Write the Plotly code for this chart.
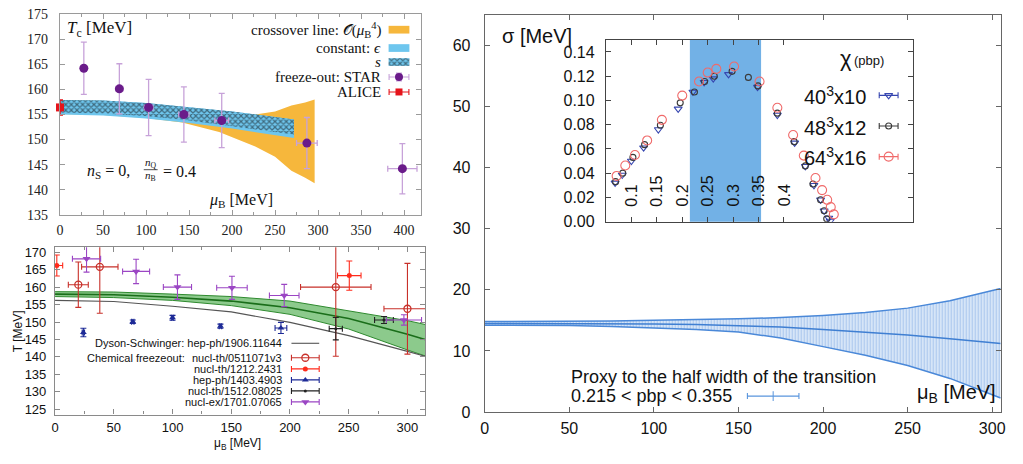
import plotly.graph_objects as go

W, H = 1023, 464
SERIF = "Liberation Serif"
SANS = "Liberation Sans"


def ax(x):
    return x / W


def ay(y):
    return 1 - y / H


# ---------------- top-left: crossover line and freeze-out ----------------
o4_mu = [0, 50, 100, 142, 185, 227, 250, 269, 285, 296]
o4_hi = [157.9, 157.7, 157.1, 156.4, 155.6, 155.0, 155.6, 156.8, 157.4, 158.0]
o4_lo = [155.1, 154.9, 154.3, 153.4, 151.5, 148.6, 146.6, 143.8, 142.4, 141.3]

eps_mu = [0, 50, 100, 150, 200, 250, 272]
eps_hi = [157.9, 157.8, 157.3, 156.5, 155.6, 154.5, 154.0]
eps_lo = [155.0, 154.8, 154.2, 153.3, 152.2, 150.9, 150.3]

s_mu = [0, 50, 100, 150, 200, 250, 272]
s_hi = [157.9, 157.8, 157.3, 156.5, 155.6, 154.5, 154.0]
s_lo = [155.4, 155.2, 154.7, 153.8, 152.7, 151.5, 151.0]

star_mu = [27.7, 69, 103, 144, 188, 287, 398]
star_mu_err = [3, 4, 5, 6, 8, 12, 17]
star_T = [164.2, 160.1, 156.4, 155.0, 153.8, 149.3, 144.2]
star_T_err = [5.2, 5.0, 5.6, 5.5, 5.4, 5.1, 5.0]

alice_mu = [0]
alice_T = [156.4]
alice_T_err = [1.5]

# ---------------- bottom-left: chemical freeze-out compilation ----------------
ds_mu = [0, 50, 100, 150, 200, 250, 300, 315]
ds_T = [156.2, 155.9, 154.5, 152.9, 149.9, 146.1, 141.6, 140.2]

lat_mu = [0, 50, 100, 150, 200, 250, 300, 315]
lat_T = [158.0, 157.8, 157.1, 156.0, 154.1, 151.0, 146.5, 145.0]
lat_hi = [158.7, 158.6, 158.0, 157.3, 156.0, 153.3, 150.4, 149.3]
lat_lo = [157.3, 157.0, 156.2, 154.7, 152.2, 148.0, 142.0, 140.3]

a_mu = [19.8, 38.1, 239, 300]
a_mu_err = [8.5, 15.5, 30, 20]
a_T = [160.7, 165.8, 160.0, 153.8]
a_T_err = [6.5, 13.3, 19.8, 13.0]

b_mu = [1.5, 250.5]
b_mu_err = [5, 10]
b_T = [166.2, 163.3]
b_T_err = [3.0, 4.2]

c_mu = [24.1, 66.2, 100, 140.8, 192.3]
c_mu_err = [1, 1, 1, 1, 5]
c_T = [147.0, 150.1, 151.2, 148.8, 148.3]
c_T_err = [1.2, 0.5, 0.7, 0.6, 1.6]

d_mu = [239, 280]
d_mu_err = [5.6, 8]
d_T = [148.1, 150.6]
d_T_err = [3.2, 1.0]

e_mu = [26.8, 69, 104.2, 150.6, 195.1, 297]
e_mu_err = [12, 11.5, 12, 13, 12.6, 15]
e_T = [168.1, 164.5, 160.0, 159.8, 157.6, 150.6]
e_T_err = [3.8, 3.5, 3.5, 3.3, 3.2, 1.5]

bl_labels = ["Dyson-Schwinger: hep-ph/1906.11644", "nucl-th/0511071v3", "nucl-th/1212.2431",
             "hep-ph/1403.4903", "nucl-th/1512.08025", "nucl-ex/1701.07065"]

# ---------------- right: half width of the transition ----------------
sig_mu = [0, 25, 50, 75, 100, 125, 150, 175, 200, 225, 250, 275, 305]
sig_mid = [14.5, 14.5, 14.5, 14.45, 14.4, 14.3, 14.15, 13.9, 13.5, 13.1, 12.6, 12.0, 11.2]
sig_hi = [14.8, 14.8, 14.85, 14.9, 15.0, 15.1, 15.25, 15.45, 15.8, 16.3, 17.0, 18.2, 20.2]
sig_lo = [14.2, 14.2, 14.15, 14.0, 13.8, 13.5, 13.1, 12.1, 10.7, 9.3, 7.6, 5.5, 2.3]

pbp_lo, pbp_hi = 0.215, 0.355

chi40_pbp = [0.068, 0.082, 0.100, 0.124, 0.153, 0.192, 0.221, 0.243, 0.261, 0.291, 0.348,
             0.387, 0.421, 0.442, 0.459, 0.472, 0.479, 0.488, 0.491]
chi40 = [0.032, 0.0385, 0.050, 0.061, 0.076, 0.093, 0.107, 0.115, 0.118, 0.1215, 0.111,
         0.088, 0.065, 0.0457, 0.030, 0.018, 0.009, 0.003, 0.0005]

chi48_pbp = [0.069, 0.083, 0.103, 0.126, 0.157, 0.196, 0.224, 0.244, 0.263, 0.298, 0.330,
             0.349, 0.387, 0.420, 0.442, 0.457, 0.472, 0.479, 0.484]
chi48 = [0.033, 0.040, 0.053, 0.0635, 0.0795, 0.098, 0.107, 0.1156, 0.120, 0.124, 0.119,
         0.112, 0.0895, 0.066, 0.046, 0.031, 0.018, 0.009, 0.0023]

chi64_pbp = [0.071, 0.088, 0.107, 0.131, 0.160, 0.200, 0.233, 0.250, 0.267, 0.302, 0.352,
             0.387, 0.418, 0.439, 0.462, 0.475, 0.485, 0.492, 0.498]
chi64 = [0.0377, 0.0463, 0.055, 0.067, 0.084, 0.104, 0.1156, 0.123, 0.126, 0.128, 0.1156,
         0.094, 0.0715, 0.0545, 0.036, 0.026, 0.018, 0.012, 0.006]

inset_xticks = [0.1, 0.15, 0.2, 0.25, 0.3, 0.35, 0.4]
inset_xlabels = ["0.1", "0.15", "0.2", "0.25", "0.3", "0.35", "0.4"]
inset_yticks = [0.0, 0.02, 0.04, 0.06, 0.08, 0.10, 0.12, 0.14]
lattice_labels = ["40<sup>3</sup>x10", "48<sup>3</sup>x12", "64<sup>3</sup>x16"]

fig = go.Figure()

HATCH = dict(shape="x", fgcolor="#101010", bgcolor="#6ec6ee", size=4, solidity=0.5)


def band(xs, lo, hi):
    return list(xs) + list(xs)[::-1], list(hi) + list(lo)[::-1]


def ebar(vals, color, thick=1.2, width=3):
    return dict(type="data", array=vals, color=color, thickness=thick, width=width)


# top-left bands
bx, by = band(o4_mu, o4_lo, o4_hi)
fig.add_trace(go.Scatter(x=bx, y=by, fill="toself", fillcolor="#f6b73c", mode="lines",
                         line=dict(width=0), xaxis="x", yaxis="y"))
bx, by = band(eps_mu, eps_lo, eps_hi)
fig.add_trace(go.Scatter(x=bx, y=by, fill="toself", fillcolor="#6ec6ee", mode="lines",
                         line=dict(width=0), xaxis="x", yaxis="y"))
bx, by = band(s_mu, s_lo, s_hi)
fig.add_trace(go.Scatter(x=bx, y=by, fill="toself", mode="lines", line=dict(width=0),
                         fillpattern=HATCH, xaxis="x", yaxis="y"))
fig.add_trace(go.Scatter(x=star_mu, y=star_T, mode="markers",
                         marker=dict(color="#6a1b8a", size=9),
                         error_x=ebar(star_mu_err, "#c7a2d9", 1.3),
                         error_y=ebar(star_T_err, "#c7a2d9", 1.3),
                         xaxis="x", yaxis="y"))
fig.add_trace(go.Scatter(x=alice_mu, y=alice_T, mode="markers", cliponaxis=False,
                         marker=dict(color="#e5141b", size=8, symbol="square"),
                         error_y=ebar(alice_T_err, "#e5141b", 1.5),
                         xaxis="x", yaxis="y"))

# bottom-left curves
bx, by = band(lat_mu, lat_lo, lat_hi)
fig.add_trace(go.Scatter(x=bx, y=by, fill="toself", fillcolor="rgba(70,170,70,0.62)",
                         mode="lines", line=dict(width=0), xaxis="x2", yaxis="y2"))
for edge in (lat_lo, lat_hi):
    fig.add_trace(go.Scatter(x=lat_mu, y=edge, mode="lines",
                             line=dict(color="#2f8a2f", width=1), xaxis="x2", yaxis="y2"))
fig.add_trace(go.Scatter(x=lat_mu, y=lat_T, mode="lines",
                         line=dict(color="#1a6e1a", width=1.6), xaxis="x2", yaxis="y2"))
fig.add_trace(go.Scatter(x=ds_mu, y=ds_T, mode="lines",
                         line=dict(color="#555555", width=1.1), xaxis="x2", yaxis="y2"))

bl_sets = [
    (a_mu, a_mu_err, a_T, a_T_err, dict(symbol="circle-open", color="#c8302a", size=7,
                                        line=dict(width=1.3)), "#c8302a", True),
    (b_mu, b_mu_err, b_T, b_T_err, dict(symbol="circle", color="#ff2b1c", size=5), "#ff2b1c", False),
    (c_mu, c_mu_err, c_T, c_T_err, dict(symbol="triangle-up", color="#1d2a96", size=6), "#1d2a96", True),
    (d_mu, d_mu_err, d_T, d_T_err, dict(symbol="circle", color="#222222", size=3), "#222222", True),
    (e_mu, e_mu_err, e_T, e_T_err, dict(symbol="triangle-down", color="#9b46c4", size=7), "#9b46c4", True),
]
for mu, mue, t, te, mk, col, clip in bl_sets:
    fig.add_trace(go.Scatter(x=mu, y=t, mode="markers", marker=mk, cliponaxis=clip,
                             error_x=ebar(mue, col, 1.1), error_y=ebar(te, col, 1.1),
                             xaxis="x2", yaxis="y2"))

# right: sigma band
fig.add_trace(go.Scatter(x=sig_mu, y=sig_lo, mode="lines", line=dict(color="#4a88d8", width=1.5),
                         xaxis="x3", yaxis="y3"))
fig.add_trace(go.Scatter(x=sig_mu, y=sig_hi, mode="lines", line=dict(color="#4a88d8", width=1.5),
                         fill="tonexty",
                         fillpattern=dict(shape="|", fgcolor="#7eaae6", bgcolor="#d6e5f7",
                                          size=3, solidity=0.35),
                         xaxis="x3", yaxis="y3"))
fig.add_trace(go.Scatter(x=sig_mu, y=sig_mid, mode="lines", line=dict(color="#3f7fd2", width=1.5),
                         xaxis="x3", yaxis="y3"))

# inset: chiral susceptibility
inset_sets = [
    (chi40_pbp, chi40, dict(symbol="triangle-down-open", color="#3646b0", size=7, line=dict(width=1.1))),
    (chi48_pbp, chi48, dict(symbol="circle-open", color="#3a3a3a", size=6, line=dict(width=1.1))),
    (chi64_pbp, chi64, dict(symbol="circle-open", color="#f06a6a", size=9, line=dict(width=1.1))),
]
for xs, ys, mk in inset_sets:
    fig.add_trace(go.Scatter(x=xs, y=ys, mode="markers", marker=mk, xaxis="x4", yaxis="y4"))


# ---------------- keys (drawn on a pixel-space overlay) ----------------
def key_marker(xc, yc, mk, col, half, vert=None):
    fig.add_trace(go.Scatter(x=[xc], y=[yc], mode="markers", marker=mk, cliponaxis=False,
                             error_x=dict(type="constant", value=half, color=col, thickness=1.1, width=3),
                             error_y=(dict(type="constant", value=vert, color=col, thickness=1.1, width=3)
                                      if vert else None),
                             xaxis="x5", yaxis="y5"))


tl_rows = [23.5, 42.5, 57, 72.5, 88]
fig.add_trace(go.Scatter(x=[388, 409, 409, 388, 388],
                         y=[tl_rows[2] - 4, tl_rows[2] - 4, tl_rows[2] + 4, tl_rows[2] + 4, tl_rows[2] - 4],
                         fill="toself", mode="lines", line=dict(width=0),
                         fillpattern=HATCH, xaxis="x5", yaxis="y5"))
key_marker(398.5, tl_rows[3], dict(color="#6a1b8a", size=8), "#c7a2d9", 10, 4)
key_marker(398.5, tl_rows[4], dict(color="#e5141b", size=7, symbol="square"), "#e5141b", 10)

bl_rows = [348.3, 363.3, 374.8, 386.2, 397.6, 409.0]
for (mu, mue, t, te, mk, col, clip), yy in zip(bl_sets, bl_rows[1:]):
    key_marker(304, yy, mk, col, 14)

key_marker(776, 403, dict(symbol="line-ns", color="#5a95dd", size=7, line=dict(width=1, color="#5a95dd")),
           "#5a95dd", 26)

in_rows = [91.5, 123.3, 155.0]
for (xs, ys, mk), yy in zip(inset_sets, in_rows):
    key_marker(892.5, yy, mk, mk["color"], 9.5)

# ---------------- shapes ----------------
shapes = [
    dict(type="rect", xref="x5", yref="y5", x0=388, x1=409, y0=tl_rows[0] - 4, y1=tl_rows[0] + 4,
         fillcolor="#f6b73c", line=dict(width=0)),
    dict(type="rect", xref="x5", yref="y5", x0=388, x1=409, y0=tl_rows[1] - 4, y1=tl_rows[1] + 4,
         fillcolor="#6ec6ee", line=dict(width=0)),
    dict(type="line", xref="x5", yref="y5", x0=141, x1=155, y0=168.5, y1=168.5,
         line=dict(color="#222", width=0.8)),
    dict(type="line", xref="x5", yref="y5", x0=290, x1=318, y0=bl_rows[0], y1=bl_rows[0],
         line=dict(color="#555555", width=1.1)),
    dict(type="rect", xref="x4", yref="y4 domain", x0=pbp_lo, x1=pbp_hi, y0=0, y1=1,
         fillcolor="#72b1e6", line=dict(width=0), layer="below"),
]

# ---------------- annotations ----------------
ann = []


def text(x, y, s, size, family=SANS, xa="left", ya="middle", angle=0, color="#111"):
    ann.append(dict(x=ax(x), y=ay(y), xref="paper", yref="paper", text=s, showarrow=False,
                    xanchor=xa, yanchor=ya, textangle=angle,
                    font=dict(family=family, size=size, color=color)))


tl_text = ["crossover line: 𝒪(<i>μ</i><sub>B</sub><sup>4</sup>)", "constant: <i>ϵ</i>", "<i>s</i>",
           "freeze-out: STAR", "ALICE"]
for s, yy in zip(tl_text, tl_rows):
    text(382, yy, s, 15, SERIF, xa="right")
text(62, 23, "<i>T</i><sub>c</sub> [MeV]", 17, SERIF)
text(82, 170, "<i>n</i><sub>S</sub> = 0,", 16, SERIF)
text(148, 161.5, "<i>n</i><sub>Q</sub>", 11, SERIF, xa="center")
text(148, 175.5, "<i>n</i><sub>B</sub>", 11, SERIF, xa="center")
text(158, 170, "= 0.4", 16, SERIF)
text(205, 200, "<i>μ</i><sub>B</sub> [MeV]", 16, SERIF)

for s, yy in zip(bl_labels, bl_rows):
    text(282, yy, s, 11, xa="right")
text(185, bl_rows[1], "Chemical freezeout:", 11, xa="right")
text(15, 336, "T [MeV]", 12, xa="center", angle=-90)
text(236, 453, "μ<sub>B</sub> [MeV]", 12, xa="center")

text(500, 30, "σ [MeV]", 20)
text(570, 383, "Proxy to the half width of the transition", 18)
text(570, 403, f"{pbp_lo} &lt; pbp &lt; {pbp_hi}", 18)
text(1003, 400, "μ<sub>B</sub> [MeV]", 20, xa="right")

for v, s in zip(inset_xticks, inset_xlabels):
    ann.append(dict(x=v, y=ay(208.5), xref="x4", yref="paper", text=s, showarrow=False,
                    xanchor="center", yanchor="bottom", textangle=-90,
                    font=dict(family=SANS, size=16, color="#111")))
text(849, 53, "χ", 22, xa="center")
text(856, 55, "(pbp)", 13)
for s, yy in zip(lattice_labels, in_rows):
    text(872, yy, s, 20, xa="right")


# ---------------- axes ----------------
def axis(domain, rng, anchor, line, font, standoff, **kw):
    d = dict(domain=domain, range=rng, anchor=anchor, showgrid=False, zeroline=False,
             showline=True, mirror="ticks", ticks="inside", ticklen=5, linecolor=line,
             tickcolor=line, linewidth=1.2, tickfont=font, ticklabelstandoff=standoff)
    d.update(kw)
    return d


f_serif = dict(family=SERIF, size=14, color="#222")
f_bl = dict(family=SANS, size=13, color="#111")
f_r = dict(family=SANS, size=16, color="#111")

fig.update_layout(
    width=W, height=H, margin=dict(l=0, r=0, t=0, b=0),
    paper_bgcolor="white", plot_bgcolor="rgba(0,0,0,0)", showlegend=False,
    xaxis=axis([ax(56.5), ax(421)], [0, 420], "y", "#9a9a9a", f_serif, 2, tick0=0, dtick=50,
               minor=dict(tick0=0, dtick=25, ticks="inside", ticklen=3, tickcolor="#9a9a9a")),
    yaxis=axis([ay(215.3), ay(7.3)], [135, 175], "x", "#9a9a9a", f_serif, 8, tick0=0, dtick=5),
    xaxis2=axis([ax(51.5), ax(424.8)], [0, 315], "y2", "#8a8a8a", f_bl, 1, tick0=0, dtick=50,
                minor=dict(tick0=0, dtick=25, ticks="inside", ticklen=3, tickcolor="#8a8a8a")),
    yaxis2=axis([ay(422.1), ay(248.9)], [123.5, 171.4], "x2", "#8a8a8a", f_bl, 5, tick0=0, dtick=5),
    xaxis3=axis([ax(485), ax(1005.5)], [0, 305], "y3", "#666666", f_r, 2, tick0=0, dtick=50),
    yaxis3=axis([ay(419.5), ay(8)], [0, 65], "x3", "#666666", f_r, 10, tick0=0, dtick=10),
    xaxis4=axis([ax(607.3), ax(916.7)], [0.05, 0.653], "y4", "#444444", f_r, 2,
                tickmode="array", tickvals=inset_xticks, showticklabels=False),
    yaxis4=axis([ay(222.3), ay(34)], [0, 0.15], "x4", "#444444", f_r, 7,
                tickmode="array", tickvals=inset_yticks, tickformat=".2f"),
    xaxis5=dict(domain=[0, 1], range=[0, W], anchor="y5", visible=False, fixedrange=True),
    yaxis5=dict(domain=[0, 1], range=[H, 0], anchor="x5", visible=False, fixedrange=True),
    shapes=shapes, annotations=ann,
)

fig.write_html("out.html")
